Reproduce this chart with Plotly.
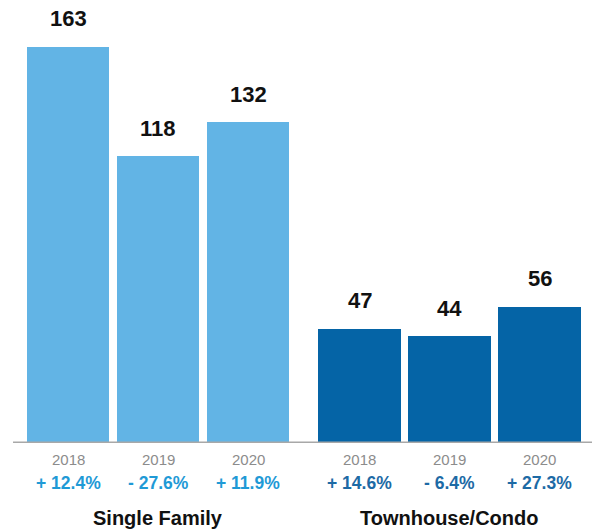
import plotly.graph_objects as go

# Data
years = ["2018", "2019", "2020"]
single_family = [163, 118, 132]
townhouse_condo = [47, 44, 56]
sf_change = ["+ 12.4%", "- 27.6%", "+ 11.9%"]
tc_change = ["+ 14.6%", "- 6.4%", "+ 27.3%"]
group_names = ["Single Family", "Townhouse/Condo"]

# Layout constants
GROUP_OFFSET = 3.24
BAR_WIDTH = 0.92
LIGHT = "#62b4e5"
DARK = "#0564a6"
FONT = "Liberation Sans, Arial, sans-serif"

x_sf = [i for i in range(len(years))]
x_tc = [i + GROUP_OFFSET for i in range(len(years))]

fig = go.Figure()
fig.add_trace(go.Bar(x=x_sf, y=single_family, width=BAR_WIDTH,
                     marker=dict(color=LIGHT, line=dict(width=0)),
                     hoverinfo="skip"))
fig.add_trace(go.Bar(x=x_tc, y=townhouse_condo, width=BAR_WIDTH,
                     marker=dict(color=DARK, line=dict(width=0)),
                     hoverinfo="skip"))

annotations = []
# value labels above bars
for xs, vals in ((x_sf, single_family), (x_tc, townhouse_condo)):
    for x, v in zip(xs, vals):
        annotations.append(dict(x=x, y=v, xref="x", yref="y", text=f"<b>{v}</b>",
                                showarrow=False, yanchor="middle", yshift=28,
                                font=dict(size=22, color="#111111", family=FONT)))
# year labels under each bar
for xs in (x_sf, x_tc):
    for x, yr in zip(xs, years):
        annotations.append(dict(x=x, y=0, xref="x", yref="y", text=yr,
                                showarrow=False, yanchor="middle", yshift=-16,
                                font=dict(size=15, color="#8c8c8c", family=FONT)))
# year-over-year change labels
for xs, changes, col in ((x_sf, sf_change, "#1f9ad6"), (x_tc, tc_change, "#1d6aa5")):
    for x, c in zip(xs, changes):
        annotations.append(dict(x=x, y=0, xref="x", yref="y", text=f"<b>{c}</b>",
                                showarrow=False, yanchor="middle", yshift=-40,
                                font=dict(size=17.5, color=col, family=FONT)))
# group titles
for xs, name in ((x_sf, group_names[0]), (x_tc, group_names[1])):
    annotations.append(dict(x=xs[1], y=0, xref="x", yref="y", text=f"<b>{name}</b>",
                            showarrow=False, yanchor="middle", yshift=-75,
                            font=dict(size=20, color="#111111", family=FONT)))

fig.update_layout(
    width=592, height=532,
    margin=dict(l=0, r=0, t=0, b=89),
    paper_bgcolor="white", plot_bgcolor="white",
    showlegend=False, bargap=0,
    font=dict(family=FONT),
    xaxis=dict(range=[-0.756, 5.822], showticklabels=False,
               showgrid=False, zeroline=False, showline=False, ticks="",
               fixedrange=True),
    yaxis=dict(range=[0, 182.3], visible=False, fixedrange=True),
    annotations=annotations,
    shapes=[
        dict(type="line", xref="paper", yref="y", x0=0.022, x1=1, y0=0, y1=0,
             line=dict(color="#a8a8a8", width=3)),
        dict(type="line", xref="paper", yref="y", x0=0.022, x1=0.022, y0=0, y1=-3,
             line=dict(color="#a8a8a8", width=2)),
    ],
)

fig.write_html("out.html")
